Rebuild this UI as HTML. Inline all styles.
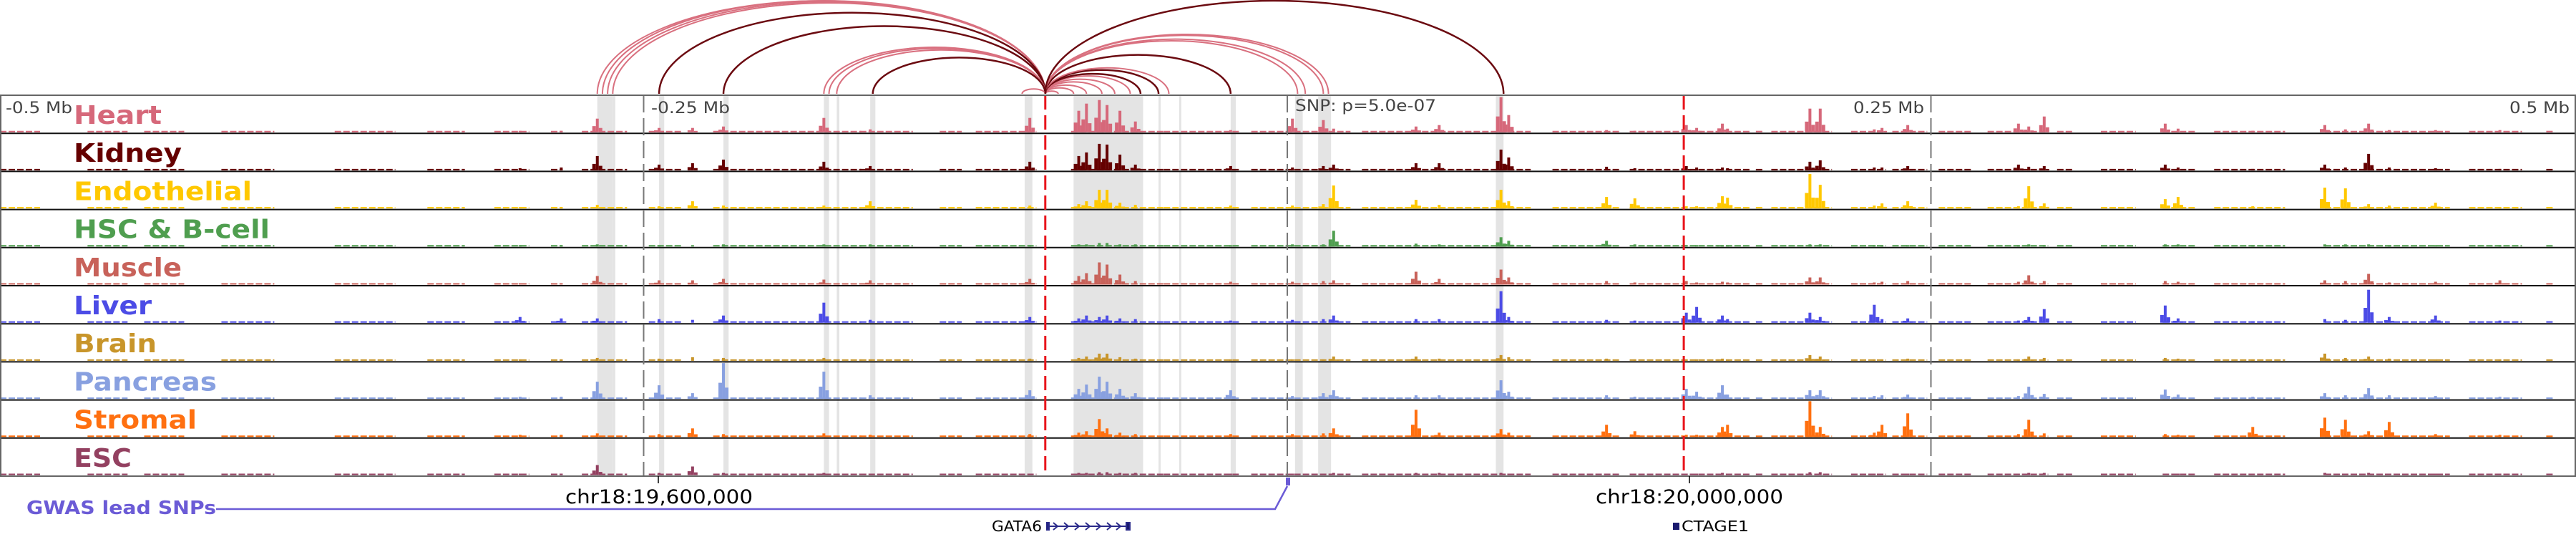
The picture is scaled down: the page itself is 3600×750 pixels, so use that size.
<!DOCTYPE html>
<html><head><meta charset="utf-8"><style>
html,body{margin:0;padding:0;background:#fff;}
svg{display:block;font-family:"DejaVu Sans","Liberation Sans",sans-serif;}
</style></head><body>
<svg id="chart" width="3600" height="750" viewBox="0 0 3600 750" xmlns="http://www.w3.org/2000/svg">
<g id="bands"></g>
<g id="arcs"></g>
<g id="tracks"></g>
<g id="overlay"></g>
<rect x="1" y="133" width="3598" height="532" fill="none" stroke="#666" stroke-width="2"/>
<text x="8" y="158" font-size="22" fill="#444" textLength="93" lengthAdjust="spacingAndGlyphs">-0.5 Mb</text>
<text x="910" y="158" font-size="22" fill="#444" textLength="110" lengthAdjust="spacingAndGlyphs">-0.25 Mb</text>
<text x="1810" y="155" font-size="22" fill="#444" textLength="197" lengthAdjust="spacingAndGlyphs">SNP: p=5.0e-07</text>
<text x="2590" y="158" font-size="22" fill="#444" textLength="99" lengthAdjust="spacingAndGlyphs">0.25 Mb</text>
<text x="3507" y="158" font-size="22" fill="#444" textLength="84" lengthAdjust="spacingAndGlyphs">0.5 Mb</text>
<g id="labels"></g>
<line x1="920" y1="665" x2="920" y2="675" stroke="#000" stroke-width="1.5"/>
<line x1="2361" y1="665" x2="2361" y2="675" stroke="#000" stroke-width="1.5"/>
<text x="790" y="703" font-size="27" fill="#000" textLength="262" lengthAdjust="spacingAndGlyphs">chr18:19,600,000</text>
<text x="2230" y="703" font-size="27" fill="#000" textLength="262" lengthAdjust="spacingAndGlyphs">chr18:20,000,000</text>
<text x="37" y="718" font-size="26" font-weight="bold" fill="#6b5bd6" textLength="265" lengthAdjust="spacingAndGlyphs">GWAS lead SNPs</text>
<polyline points="302,711 1782,711 1799,679" fill="none" stroke="#6b5bd6" stroke-width="2.5"/>
<rect x="1797" y="667" width="6" height="11" fill="#6b5bd6"/>
<text x="1386" y="742" font-size="20" fill="#000" textLength="70" lengthAdjust="spacingAndGlyphs">GATA6</text>
<g stroke="#2a2a8a" fill="none" stroke-width="2">
<line x1="1463" y1="735" x2="1578" y2="735"/>
<rect x="1463" y="730" width="3" height="10" fill="#1a1a6e"/>
<rect x="1574" y="730" width="5" height="10" fill="#1a1a6e"/>
<polyline points="1472,730 1478,735 1472,740"/><polyline points="1487,730 1493,735 1487,740"/><polyline points="1502,730 1508,735 1502,740"/><polyline points="1517,730 1523,735 1517,740"/><polyline points="1532,730 1538,735 1532,740"/><polyline points="1547,730 1553,735 1547,740"/><polyline points="1560,730 1566,735 1560,740"/>
</g>
<rect x="2338" y="730" width="9" height="10" fill="#1a1a6e"/>
<text x="2350" y="742" font-size="20" fill="#000" textLength="94" lengthAdjust="spacingAndGlyphs">CTAGE1</text>
</svg>
<script>
// ---- data (genomic positions in kb relative to lead SNP) ----
const trackNames = ["Heart","Kidney","Endothelial","HSC & B-cell","Muscle","Liver","Brain","Pancreas","Stromal","ESC"];
const trackColors = ["#d6687a","#650000","#ffc800","#4f9e4f","#c8625a","#4c4ce6","#c8952a","#88a0e0","#ff7010","#934060"];
const labelWidths = [123,151,249,274,151,109,116,200,172,81];
const loci = [-298,-282,-268,-244,-231,-219,-180,-162,-100,-81,-78,-73,-70,-65,-59,-22,2,14,18,50,59,83,86,124,135,155,159,169,171,203,207,228,231,241,284,288,294,341,346,375,403,411,420,428,446,471];
const heart = [2,2,19,6,6,8,20,4,20,30,40,45,38,30,15,3,19,17,5,8,10,49,24,3,2,10,6,12,5,33,33,4,6,10,12,8,22,12,5,2,10,4,12,3,3,3];
const kidney = [3,4,20,8,10,15,12,6,12,20,25,37,36,22,8,6,4,6,8,10,10,29,18,5,3,6,4,4,3,12,14,4,4,6,8,5,6,8,4,2,8,4,23,4,3,2];
const endothelial = [2,2,5,3,10,4,4,10,4,6,10,26,26,8,5,4,4,6,32,12,5,26,10,16,14,3,3,17,15,48,33,4,7,10,3,31,7,13,16,3,29,28,6,4,8,2];
const hsc = [2,2,3,2,2,3,3,3,2,3,3,5,5,3,3,2,3,3,22,4,3,13,8,8,3,2,2,2,2,3,3,2,2,2,2,3,2,3,3,2,3,3,3,2,2,2];
const muscle = [2,2,12,6,6,8,7,6,8,12,16,31,28,14,5,4,4,5,6,18,8,21,10,5,3,5,3,4,3,10,10,3,4,5,4,13,5,5,4,2,6,5,15,3,4,6];
const liver = [8,6,6,5,4,10,28,4,8,6,10,8,10,6,5,3,4,5,10,5,5,44,8,4,3,14,22,10,5,14,8,25,5,6,3,8,19,24,6,2,5,4,46,8,10,3];
const brain = [2,2,4,3,5,4,4,2,3,4,6,10,10,5,3,2,2,2,6,6,3,8,5,3,2,2,2,3,2,8,6,2,2,3,2,6,4,4,3,2,10,4,6,3,2,2];
const pancreas = [3,3,24,19,8,50,38,5,12,14,20,31,24,14,8,12,4,8,12,5,5,26,10,5,3,14,10,19,6,12,12,4,5,6,4,17,7,13,6,3,8,5,15,5,4,3];
const stromal = [3,3,5,4,12,4,5,3,4,6,8,25,12,6,4,4,4,5,12,38,6,11,6,17,8,3,3,14,17,50,14,6,17,33,4,24,5,4,3,14,27,24,8,21,4,3];
const esc = [2,2,14,3,12,3,3,2,2,3,3,4,4,3,3,2,2,2,3,3,3,3,2,2,2,2,2,3,2,4,4,2,2,2,2,3,3,2,2,2,3,2,3,2,2,2];
const baselineStarts = [-500,-466,-444,-414,-370,-334,-308,-286,-274,-248,-223,-166,-135,-121,-84,-48,-14,29,103,133,153,167,182,188,219,235,253,272,299,316,340,360,403,459,489];
const baselineEnds   = [-485,-451,-429,-394,-347,-320,-295,-282,-257,-236,-166,-146,-127,-98,-48,-19,24,94,129,153,167,179,184,211,232,248,265,295,305,329,352,387,451,479,491];
const bandStarts = [-268,-262,-244,-219,-180,-175,-162,-102,-83,-50,-42,-22,3,12,81];
const bandEnds   = [-262,-261,-242,-217,-178,-174,-160,-99,-56,-50,-46,-20,6,17,84];
const arcAnchor = -94;
const arcEnds = [-268,-266,-264,-262,-244,-219,-180,-178,-175,-161,-103,-89,-83,-78,-72,-67,-61,-57,-50,-46,-22,4,7,14,16,84];
const arcDark = [0,0,0,0,1,1,0,0,0,1,0,0,0,0,0,0,0,1,1,0,1,0,0,0,0,1];
const series = [heart,kidney,endothelial,hsc,muscle,liver,brain,pancreas,stromal,esc];

// ---- scales ----
const NS = "http://www.w3.org/2000/svg";
const PX_PER_KB = 3.598, ZERO_X = 1799;
function xScale(kb){ return ZERO_X + kb*PX_PER_KB; }
const TOP = 133, TRACK_H = 53.2;
function trackTop(i){ return TOP + i*TRACK_H; }
function mk(tag, attrs, parent){ const e=document.createElementNS(NS,tag); for(const k in attrs) e.setAttribute(k,attrs[k]); parent.appendChild(e); return e; }

// bands
const bandG = document.getElementById('bands');
for(let i=0;i<bandStarts.length;i++){
  const r = mk('rect',{x:xScale(bandStarts[i]),y:TOP,width:Math.max(3,xScale(bandEnds[i])-xScale(bandStarts[i])),height:532,fill:'#e4e4e4'},bandG);
  
  
}

// arcs
const arcG = document.getElementById('arcs');
for(let i=0;i<arcEnds.length;i++){
  const x1 = xScale(arcAnchor), x2 = xScale(arcEnds[i]);
  const a = Math.min(x1,x2), b = Math.max(x1,x2);
  const rx = (b-a)/2, ry = Math.min(130, (b-a)*0.21);
  const p = mk('path',{d:`M${a},131 A${rx},${ry} 0 0 1 ${b},131`,fill:'none',stroke:arcDark[i]?'#6b0a10':'#d9707f','stroke-width':arcDark[i]?2.5:2},arcG);
  
  
}

// tracks
const trG = document.getElementById('tracks');
const lbG = document.getElementById('labels');
for(let t=0;t<series.length;t++){
  const g = mk('g',{},trG);
  
  
  const base = trackTop(t)+TRACK_H-1.5;
  const col = trackColors[t];
  for(let s=0;s<baselineStarts.length;s++){
    const l = mk('line',{x1:xScale(baselineStarts[s]),x2:xScale(baselineEnds[s])+2,y1:base-1,y2:base-1,stroke:col,'stroke-width':2,'stroke-dasharray':'9,3'},g);
    
    
  }
  const vals = series[t];
  for(let k=0;k<loci.length;k++){
    const h = vals[k], x = xScale(loci[k]);
    const r = mk('rect',{x:x-2,y:base-h,width:4,height:h,fill:col},g);
    
    
    if(h>5){
      const sh = h*0.45;
      const r1 = mk('rect',{x:x-7,y:base-sh,width:5,height:sh,fill:col},g);
      
      
      const r2 = mk('rect',{x:x+2,y:base-sh*0.7,width:5,height:sh*0.7,fill:col},g);
      
      
    }
  }
  const ln = mk('line',{x1:0,x2:3600,y1:trackTop(t)+TRACK_H,y2:trackTop(t)+TRACK_H,stroke:t===9?'#666':'#111','stroke-width':2},g);
  
  
  const tx = mk('text',{x:103,y:trackTop(t)+40,'font-size':36,'font-weight':'bold',fill:col,textLength:labelWidths[t],lengthAdjust:'spacingAndGlyphs'},lbG);
  tx.textContent = trackNames[t];
  
  
}

// overlay dashed lines
const ov = document.getElementById('overlay');
[-250,0,250].forEach(kb=>{
  const l = mk('line',{x1:xScale(kb),x2:xScale(kb),y1:TOP,y2:665,stroke:'#777','stroke-width':2,'stroke-dasharray':'24,8'},ov);
  
  
});
[-94,154].forEach(kb=>{
  const l = mk('line',{x1:xScale(kb),x2:xScale(kb),y1:TOP,y2:665,stroke:'#e8141c','stroke-width':3,'stroke-dasharray':'20,8'},ov);
  
  
});
</script>
</body></html>
